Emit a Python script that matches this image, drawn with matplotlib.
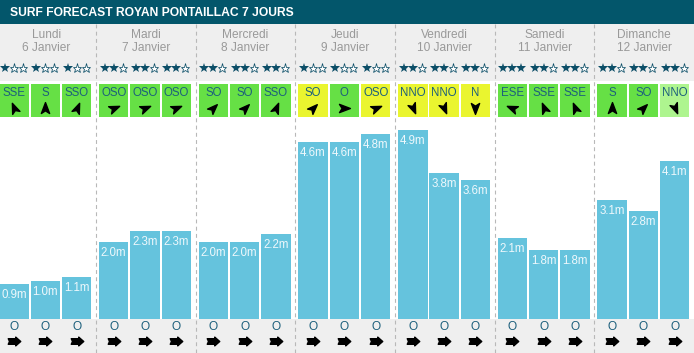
import numpy as np
import matplotlib
matplotlib.use("Agg")
import matplotlib.pyplot as plt
from matplotlib.patches import Rectangle
from matplotlib.path import Path

plt.rcParams['font.family'] = ['Liberation Sans', 'DejaVu Sans']

# --- data -------------------------------------------------------------
title = "SURF FORECAST ROYAN PONTAILLAC 7 JOURS"
days = ["Lundi", "Mardi", "Mercredi", "Jeudi", "Vendredi", "Samedi", "Dimanche"]
dates = ["6 Janvier", "7 Janvier", "8 Janvier", "9 Janvier",
         "10 Janvier", "11 Janvier", "12 Janvier"]
stars = [1, 1, 1, 2, 2, 2, 2, 2, 2, 1, 1, 1, 2, 2, 2, 3, 2, 2, 2, 2, 2]
wind_dir = ["SSE", "S", "SSO", "OSO", "OSO", "OSO", "SO", "SO", "SSO",
            "SO", "O", "OSO", "NNO", "NNO", "N", "ESE", "SSE", "SSE",
            "S", "SO", "NNO"]
# 0 = green, 1 = yellow, 2 = light green
wind_level = [0, 0, 0, 0, 0, 0, 0, 0, 0, 1, 0, 1, 1, 1, 1, 0, 0, 0, 0, 0, 2]
heights = [0.9, 1.0, 1.1, 2.0, 2.3, 2.3, 2.0, 2.0, 2.2,
           4.6, 4.6, 4.8, 4.9, 3.8, 3.6, 2.1, 1.8, 1.8, 3.1, 2.8, 4.1]
swell_dir = ["O"] * 21

compass = {"N": 0, "NNE": 22.5, "NE": 45, "ENE": 67.5, "E": 90, "ESE": 112.5,
           "SE": 135, "SSE": 157.5, "S": 180, "SSO": 202.5, "SO": 225,
           "OSO": 247.5, "O": 270, "ONO": 292.5, "NO": 315, "NNO": 337.5}

# --- layout (pixels) --------------------------------------------------
W, H = 694, 353
day_w = 99.67
x0 = -3.67
slot = 31.3
bar_w = 29.5
head_h = 24
grey_bot = 81
box_top, box_bot = 84, 117
bar_bot = 319

teal = '#03566b'
star_col = '#0d4f68'
box_cols = ['#66e045', '#eaf52f', '#aef58f']
txt_teal = '#1c5f7c'

fig = plt.figure(figsize=(W / 100, H / 100), dpi=100)
bg = fig.add_axes([0, 0, 1, 1])
bg.set_xlim(0, W)
bg.set_ylim(H, 0)
bg.axis('off')

bg.add_patch(Rectangle((0, 0), W, head_h, color=teal, lw=0))
bg.text(10, 12.5, title, color='white', fontsize=8.7, fontweight='bold',
        va='center', ha='left')
bg.add_patch(Rectangle((0, head_h), W, grey_bot - head_h, color='#efefef', lw=0))
bg.add_patch(Rectangle((0, bar_bot), W, H - bar_bot, color='#efefef', lw=0))

seps = [x0 + day_w * (i + 1) for i in range(6)]
bg.vlines(seps, head_h, H, colors='#b8b8b8', lw=0.8, linestyles=(0, (3.5, 3)))

for i, (d, dt) in enumerate(zip(days, dates)):
    cx = x0 + day_w * i + day_w / 2
    bg.text(cx, 35, d, color='#999999', fontsize=8.6, ha='center', va='center')
    bg.text(cx, 48, dt, color='#999999', fontsize=8.6, ha='center', va='center')


def nav_arrow(angle):
    # dart shape pointing up, rotated clockwise by compass angle
    v = np.array([[0, 1], [0.7, -0.85], [0, -0.4], [-0.7, -0.85], [0, 1]])
    a = np.deg2rad(-angle)
    r = np.array([[np.cos(a), -np.sin(a)], [np.sin(a), np.cos(a)]])
    return Path(v @ r.T, closed=True)


swell_path = Path(np.array([[-1, 0.45], [0.2, 0.45], [0.2, 0.7], [1, 0],
                            [0.2, -0.7], [0.2, -0.45], [-1, -0.45],
                            [-0.8, 0], [-1, 0.45]]), closed=True)

xs = []
for k in range(21):
    d, j = divmod(k, 3)
    left = x0 + day_w * d + 3 + slot * j
    cx = left + bar_w / 2
    xs.append(cx)
    # stars
    n = stars[k]
    for s in range(3):
        sx = cx + (s - 1) * 9
        if s < n:
            bg.plot(sx, 67.5, marker='*', ms=7, color=star_col, mew=0, ls='none')
        else:
            bg.plot(sx, 67.5, marker='*', ms=6.6, mfc='white', mec=star_col,
                    mew=0.55, ls='none')
    # wind box
    bg.add_patch(Rectangle((left, box_top), bar_w, box_bot - box_top,
                           color=box_cols[wind_level[k]], lw=0))
    bg.text(cx, 93, wind_dir[k], color=txt_teal, fontsize=8.3,
            ha='center', va='center')
    to = (compass[wind_dir[k]] + 180) % 360
    bg.plot(cx, 107.5, marker=nav_arrow(to), color='black', ms=8.5, ls='none')
    # swell row
    bg.text(cx, 326.5, swell_dir[k], color=txt_teal, fontsize=8.6,
            ha='center', va='center')
    bg.plot(cx, 341, marker=swell_path, color='black', ms=9, ls='none')

# bars
ax = fig.add_axes([0, 1 - bar_bot / H, 1, (bar_bot - box_bot) / H])
ax.set_xlim(0, W)
ax.set_ylim(0, 5.25)
ax.patch.set_alpha(0)
ax.axis('off')
ax.bar(xs, heights, width=bar_w, color='#65c3dd', lw=0)
for x, h in zip(xs, heights):
    ax.annotate(f"{h:.1f}m", (x, h), xytext=(0, -11), textcoords='offset pixels',
                color='#eef8fc', fontsize=8.3, ha='center', va='center')

fig.savefig('out.png', dpi=100)
